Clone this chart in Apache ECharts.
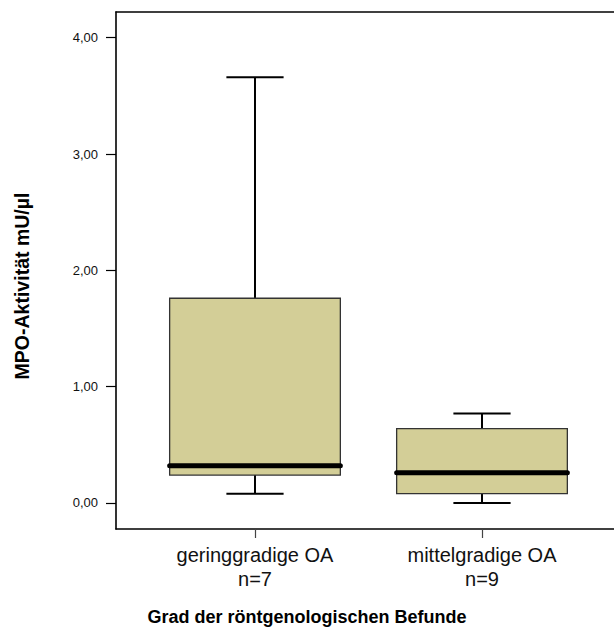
<!DOCTYPE html>
<html>
<head>
<meta charset="utf-8">
<script src="https://cdn.jsdelivr.net/npm/echarts@6/dist/echarts.min.js"></script>
<style>
  html, body { margin: 0; padding: 0; background: #fff; overflow: hidden; }
  #chart { width: 614px; height: 635px; }
</style>
</head>
<body>
<div id="chart"></div>
<script>
// Groups and their sample sizes
const categories = ['geringgradige OA', 'mittelgradige OA'];
const sampleSizes = ['n=7', 'n=9'];

// Box plot statistics for MPO activity (mU/µl)
const lowWhisker  = [0.08, 0.00];
const lowerQuart  = [0.24, 0.08];
const medians     = [0.32, 0.26];
const upperQuart  = [1.76, 0.64];
const highWhisker = [3.66, 0.77];

// Y tick values, shown with a decimal comma
const yTicks = [0, 1, 2, 3, 4];

const boxData = categories.map((c, i) => [
  i + 1, lowWhisker[i], lowerQuart[i], medians[i], upperQuart[i], highWhisker[i]
]);

const BOX_HALF = 0.376;  // half box width, x units
const CAP_HALF = 0.126;  // half whisker cap width, x units
const X_MIN = 0.3877, X_MAX = 2.5815;
const FONT = 'Liberation Sans, Arial, sans-serif';

function renderBox(params, api) {
  const x = api.value(0);
  const lo = api.value(1), q1 = api.value(2), med = api.value(3),
        q3 = api.value(4), hi = api.value(5);
  const c = (xv, yv) => api.coord([xv, yv]);
  const pLo = c(x, lo), pQ1 = c(x, q1), pMed = c(x, med), pQ3 = c(x, q3), pHi = c(x, hi);
  const bl = c(x - BOX_HALF, q3), br = c(x + BOX_HALF, q1);
  const capL = c(x - CAP_HALF, 0)[0], capR = c(x + CAP_HALF, 0)[0];
  const medL = c(x - BOX_HALF, med)[0], medR = c(x + BOX_HALF, med)[0];
  const wStyle = { stroke: '#000', lineWidth: 2 };
  return {
    type: 'group',
    children: [
      { type: 'line', shape: { x1: pQ3[0], y1: pQ3[1], x2: pHi[0], y2: pHi[1] }, style: wStyle },
      { type: 'line', shape: { x1: capL, y1: pHi[1], x2: capR, y2: pHi[1] }, style: wStyle },
      { type: 'line', shape: { x1: pQ1[0], y1: pQ1[1], x2: pLo[0], y2: pLo[1] }, style: wStyle },
      { type: 'line', shape: { x1: capL, y1: pLo[1], x2: capR, y2: pLo[1] }, style: wStyle },
      { type: 'rect',
        shape: { x: bl[0], y: bl[1], width: br[0] - bl[0], height: br[1] - bl[1] },
        style: { fill: '#d3ce97', stroke: '#333', lineWidth: 1.3 } },
      { type: 'line', shape: { x1: medL, y1: pMed[1], x2: medR, y2: pMed[1] },
        style: { stroke: '#000', lineWidth: 5, lineCap: 'round' } }
    ]
  };
}

const frameLine = { show: true, onZero: false, lineStyle: { color: '#000', width: 1.6 } };

const chart = echarts.init(document.getElementById('chart'), null, { renderer: 'svg' });

chart.setOption({
  backgroundColor: '#fff',
  animation: false,
  grid: { left: 116, top: 12, right: 0, bottom: 106, show: false },
  xAxis: [
    {
      type: 'value',
      position: 'bottom',
      min: X_MIN, max: X_MAX,
      splitLine: { show: false },
      axisLine: frameLine,
      axisTick: { show: true, length: 9, lineStyle: { color: '#444', width: 1.2 }, customValues: [1, 2] },
      axisLabel: {
        customValues: [1, 2],
        margin: 14,
        fontFamily: FONT,
        fontSize: 20,
        lineHeight: 24,
        color: '#111',
        formatter: v => {
          const i = Math.round(v) - 1;
          return categories[i] + '\n' + sampleSizes[i];
        }
      }
    },
    {
      // top edge of the plot frame
      type: 'value',
      position: 'top',
      min: X_MIN, max: X_MAX,
      splitLine: { show: false },
      axisLine: frameLine,
      axisTick: { show: false },
      axisLabel: { show: false }
    }
  ],
  yAxis: {
    type: 'value',
    min: -0.2235, max: 4.2207,
    splitLine: { show: false },
    axisLine: frameLine,
    axisTick: { show: true, length: 10, lineStyle: { color: '#000', width: 1.2 }, customValues: yTicks },
    axisLabel: {
      customValues: yTicks,
      margin: 18,
      fontFamily: FONT,
      fontSize: 13,
      color: '#111',
      formatter: v => v.toFixed(2).replace('.', ',')
    }
  },
  graphic: [
    {
      type: 'text',
      x: 22, y: 286,
      rotation: Math.PI / 2,
      style: {
        text: 'MPO-Aktivität mU/µl',
        fontFamily: FONT,
        fontWeight: 'bold',
        fontSize: 19.5,
        fill: '#000',
        textAlign: 'center',
        textVerticalAlign: 'middle'
      }
    },
    {
      type: 'text',
      x: 307, y: 617,
      style: {
        text: 'Grad der röntgenologischen Befunde',
        fontFamily: FONT,
        fontWeight: 'bold',
        fontSize: 18,
        fill: '#000',
        textAlign: 'center',
        textVerticalAlign: 'middle'
      }
    }
  ],
  series: [{
    type: 'custom',
    renderItem: renderBox,
    encode: { x: 0, y: [1, 2, 3, 4, 5] },
    data: boxData,
    clip: false
  }]
});
</script>
</body>
</html>
